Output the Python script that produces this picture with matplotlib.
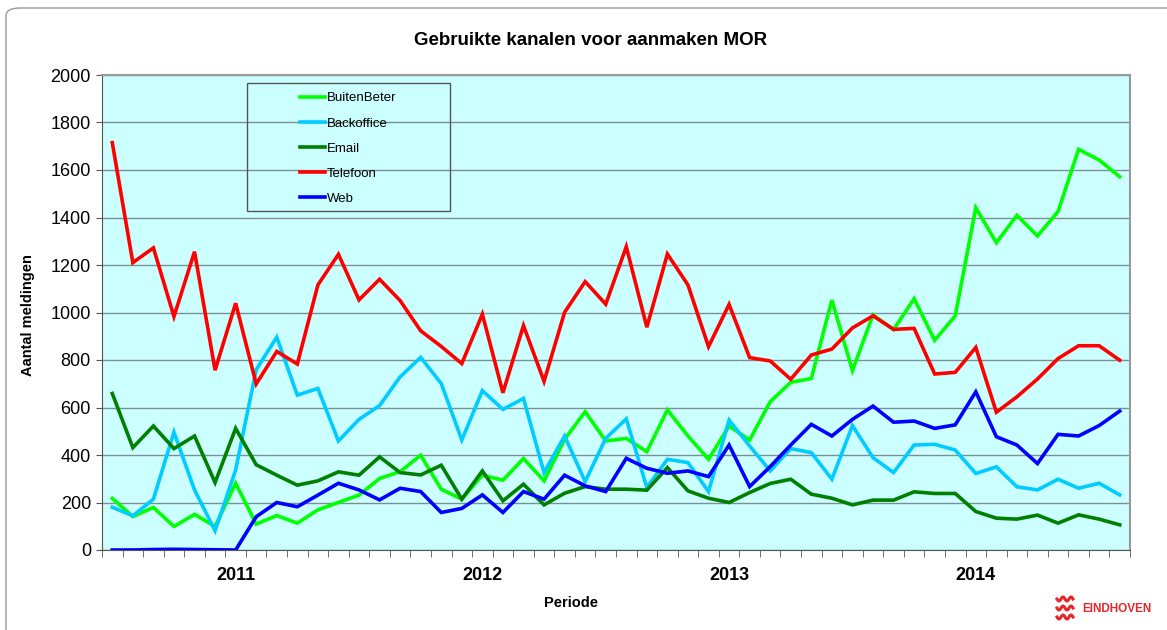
import numpy as np
import matplotlib
matplotlib.use('Agg')
import matplotlib.pyplot as plt
from matplotlib.patches import Rectangle, FancyBboxPatch
from matplotlib.lines import Line2D

# Maanden juli 2010 t/m augustus 2014
maanden = [f'{j}-{m:02d}' for j in range(2010, 2015) for m in range(1, 13)][6:56]
jaren = ['2011', '2012', '2013', '2014']
jaar_posities = [maanden.index(f'{j}-01') for j in jaren]

buitenbeter = [217, 141, 179, 99, 150, 99, 281, 109, 145, 113, 169, 200, 231, 301, 330, 399, 256,
               214, 315, 294, 385, 291, 466, 582, 459, 470, 414, 590, 480, 382, 522, 463, 624, 706,
               722, 1052, 756, 990, 928, 1058, 883, 986, 1441, 1294, 1409, 1322, 1425, 1687, 1642, 1572]
backoffice = [180, 144, 214, 496, 253, 81, 337, 759, 896, 652, 680, 459, 550, 608, 729, 811, 701,
              463, 671, 592, 638, 326, 480, 288, 470, 552, 263, 382, 368, 246, 547, 438, 333, 427,
              410, 298, 524, 389, 326, 442, 445, 421, 322, 350, 266, 253, 298, 260, 281, 232]
email = [659, 431, 522, 427, 480, 284, 512, 359, 315, 273, 291, 329, 315, 392, 326, 316, 357, 214,
         333, 207, 277, 190, 239, 267, 256, 256, 252, 347, 249, 218, 200, 242, 280, 298, 235, 218,
         190, 210, 210, 245, 238, 238, 162, 134, 130, 147, 113, 148, 130, 106]
telefoon = [1715, 1210, 1272, 983, 1256, 757, 1039, 699, 836, 783, 1116, 1245, 1053, 1140, 1050, 923,
            857, 785, 993, 662, 945, 710, 1001, 1130, 1035, 1277, 938, 1246, 1116, 856, 1034, 810,
            796, 719, 821, 846, 935, 986, 929, 933, 741, 748, 853, 580, 645, 720, 806, 860, 860, 799]
web = [0, 0, 2, 3, 2, 1, 0, 140, 200, 182, 231, 281, 253, 211, 260, 246, 158, 175, 232, 158, 246,
       214, 315, 270, 246, 386, 344, 323, 333, 309, 442, 267, 351, 442, 529, 480, 550, 606, 538,
       543, 512, 527, 666, 477, 442, 364, 487, 480, 524, 585]

reeksen = [
    ('BuitenBeter', buitenbeter, '#00FF00'),
    ('Backoffice', backoffice, '#00CCFF'),
    ('Email', email, '#008000'),
    ('Telefoon', telefoon, '#FF0000'),
    ('Web', web, '#0000FF'),
]


def maak_grafiek():
    plt.rcParams['font.family'] = ['Liberation Sans', 'DejaVu Sans']

    fig = plt.figure(figsize=(11.67, 6.30), dpi=100)
    fig.patch.set_facecolor('white')

    # Afgeronde rand om de hele grafiek
    rand = FancyBboxPatch((6 / 1167, -0.1), 1.2, 1.1 - 8 / 630,
                          boxstyle='round,pad=0,rounding_size=0.012',
                          transform=fig.transFigure, facecolor='none',
                          edgecolor='#9a9a9a', linewidth=1.0, clip_on=False)
    fig.patches.append(rand)

    ax = fig.add_axes([102 / 1167, 80 / 630, 1028 / 1167, 475 / 630])
    ax.set_facecolor('#CCFFFF')

    x = np.arange(len(maanden))
    for naam, waarden, kleur in reeksen:
        ax.plot(x, waarden, color=kleur, linewidth=2.6, label=naam,
                solid_joinstyle='miter', zorder=3)

    ax.set_xlim(-0.5, len(maanden) - 0.5)
    ax.set_ylim(0, 2000)
    ax.set_yticks(np.arange(0, 2001, 200))
    ax.tick_params(axis='y', labelsize=13, length=4, color='#555555', pad=4)
    ax.yaxis.grid(True, color='#7f8f8f', linewidth=1.0)
    ax.set_axisbelow(True)

    # Jaartallen onder januari, streepjes tussen de maanden
    ax.set_xticks(jaar_posities)
    ax.set_xticklabels(jaren, fontsize=13, fontweight='bold')
    ax.tick_params(axis='x', length=0, pad=12)
    ax.set_xticks(np.arange(-0.5, len(maanden), 1), minor=True)
    ax.tick_params(axis='x', which='minor', length=5, color='#555555')

    for kant in ['left', 'bottom']:
        ax.spines[kant].set_color('#555555')
    for kant in ['top', 'right']:
        ax.spines[kant].set_color('#999999')
        ax.spines[kant].set_linewidth(1.5)

    # Legenda: kader apart getekend, items rechts in het kader
    kader = Rectangle((0.141, 0.714), 0.1975, 0.269, transform=ax.transAxes,
                      facecolor='none', edgecolor='#555555', linewidth=1.0, zorder=4)
    ax.add_patch(kader)
    ax.legend(loc='upper left', bbox_to_anchor=(0.1926, 0.964), frameon=False,
              fontsize=9.5, handlelength=1.9, handletextpad=0.15, labelspacing=0.98,
              borderpad=0, borderaxespad=0)

    fig.text(0.506, 0.936, 'Gebruikte kanalen voor aanmaken MOR', ha='center', va='center',
             fontsize=13.5, fontweight='bold')
    fig.text(0.024, 0.5, 'Aantal meldingen', rotation=90, ha='center', va='center',
             fontsize=10.5, fontweight='bold')
    fig.text(0.489, 0.043, 'Periode', ha='center', va='center', fontsize=10.5, fontweight='bold')

    # Logo gemeente Eindhoven
    rood = '#E8262A'
    fig.text(1082 / 1167, 1 - 609 / 630, 'EINDHOVEN', ha='left', va='center',
             fontsize=8.5, fontweight='bold', color=rood)
    t = np.linspace(0, 1, 40)
    for dy in [599, 608, 617]:
        gx = (1057 + 16 * t) / 1167
        gy = 1 - (dy + 2 * np.sin(t * 4 * np.pi)) / 630
        fig.lines.append(Line2D(gx, gy, transform=fig.transFigure, color=rood, linewidth=2.2))

    fig.savefig('out.png', dpi=100)
    plt.close(fig)


if __name__ == '__main__':
    maak_grafiek()
